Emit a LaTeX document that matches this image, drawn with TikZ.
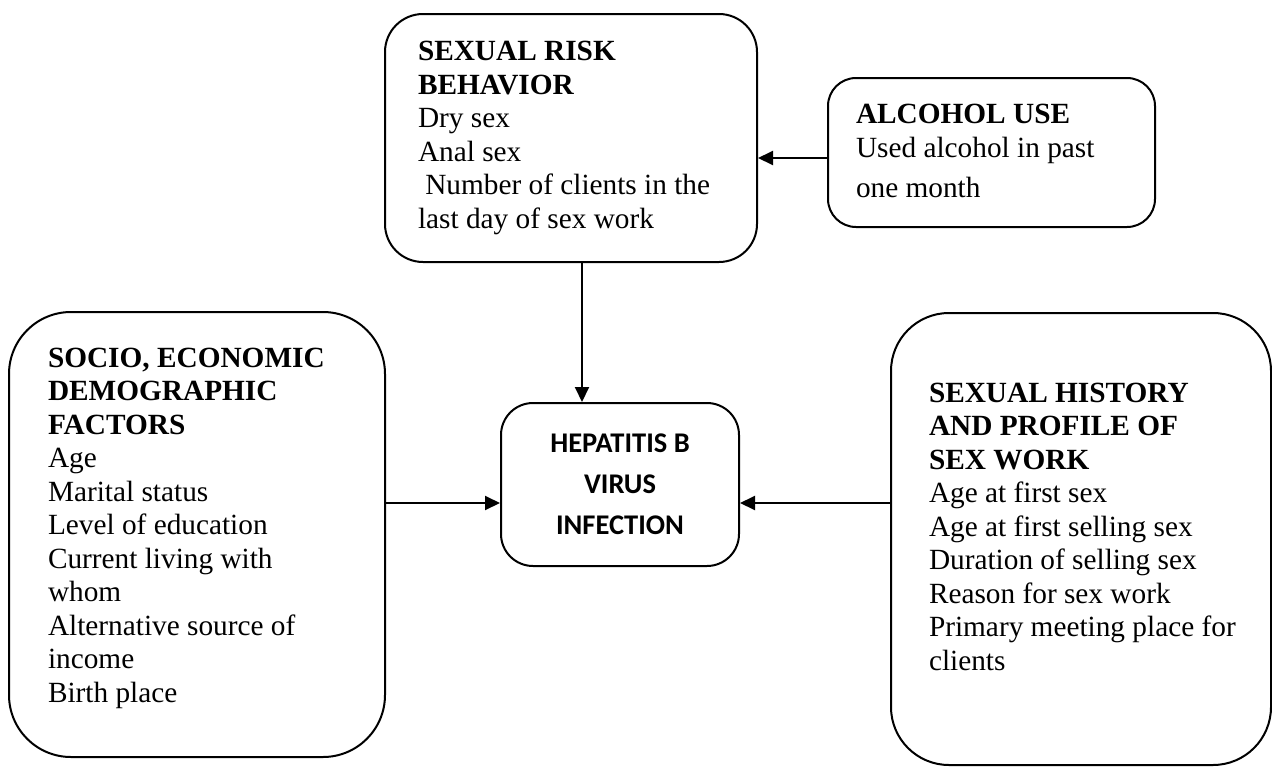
\documentclass[tikz,border=0pt]{standalone}
\usepackage{fontspec}
\setmainfont{Liberation Serif}
\newfontfamily\hbvfont{Carlito}
\usetikzlibrary{arrows.meta}

\begin{document}
\begin{tikzpicture}[x=1pt, y=-1pt, line width=2pt,
    box/.style = {draw, inner sep=0pt},
    txt/.style = {anchor=base west, align=left, inner sep=0pt, font=\fontsize{29.3}{33.5}\selectfont},
    arr/.style = {-{Triangle[length=15pt, width=14pt]}}]
    \useasboundingbox (0,0) rectangle (1272,766);
    \node[box, rounded corners=38pt, minimum width=372pt, minimum height=248pt] (risk) at (571,138) {};
    \node[box, rounded corners=28pt, minimum width=327pt, minimum height=149pt] (alcohol) at (991.5,152.5) {};
    \node[box, rounded corners=62pt, minimum width=376pt, minimum height=445pt] (socio) at (197,534.5) {};
    \node[box, rounded corners=58pt, minimum width=380pt, minimum height=452pt] (history) at (1081,539) {};
    \node[box, rounded corners=32pt, minimum width=238pt, minimum height=163pt, align=center,
        font=\hbvfont\bfseries\fontsize{28.5}{41}\selectfont] (hbv) at (620,484.5) {HEPATITIS B\\ VIRUS\\ INFECTION};
    \node[txt] (risktext) at (417,228) {\textbf{SEXUAL RISK}\\ \textbf{BEHAVIOR}\\ Dry sex\\ Anal sex\\ \hspace*{0.25em}Number of clients in the\\ last day of sex work};
    \node[txt, font=\fontsize{29.3}{34}\selectfont] (alcoholtext) at (855,197) {\textbf{ALCOHOL USE}\\ Used alcohol in past\\[6pt] one month};
    \node[txt] (sociotext) at (47,702) {\textbf{SOCIO, ECONOMIC}\\ \textbf{DEMOGRAPHIC}\\ \textbf{FACTORS}\\ Age\\ Marital status\\ Level of education\\ Current living with\\ whom\\ Alternative source of\\ income\\ Birth place};
    \node[txt] (historytext) at (928,670) {\textbf{SEXUAL HISTORY}\\ \textbf{AND PROFILE OF}\\ \textbf{SEX WORK}\\ Age at first sex\\ Age at first selling sex\\ Duration of selling sex\\ Reason for sex work\\ Primary meeting place for\\ clients};
    \coordinate (alcoholL) at ([yshift=-5.5pt]alcohol.west);
    \coordinate (riskS) at ([xshift=11pt]risk.south);
    \coordinate (hbvL) at ([yshift=-18.5pt]hbv.west);
    \coordinate (hbvR) at ([yshift=-18.5pt]hbv.east);
    \draw[arr] (alcoholL) -- (alcoholL -| risk.east);
    \draw[arr] (riskS) -- (riskS |- hbv.north);
    \draw[arr] (socio.east |- hbvL) -- (hbvL);
    \draw[arr] (history.west |- hbvR) -- (hbvR);
\end{tikzpicture}
\end{document}
